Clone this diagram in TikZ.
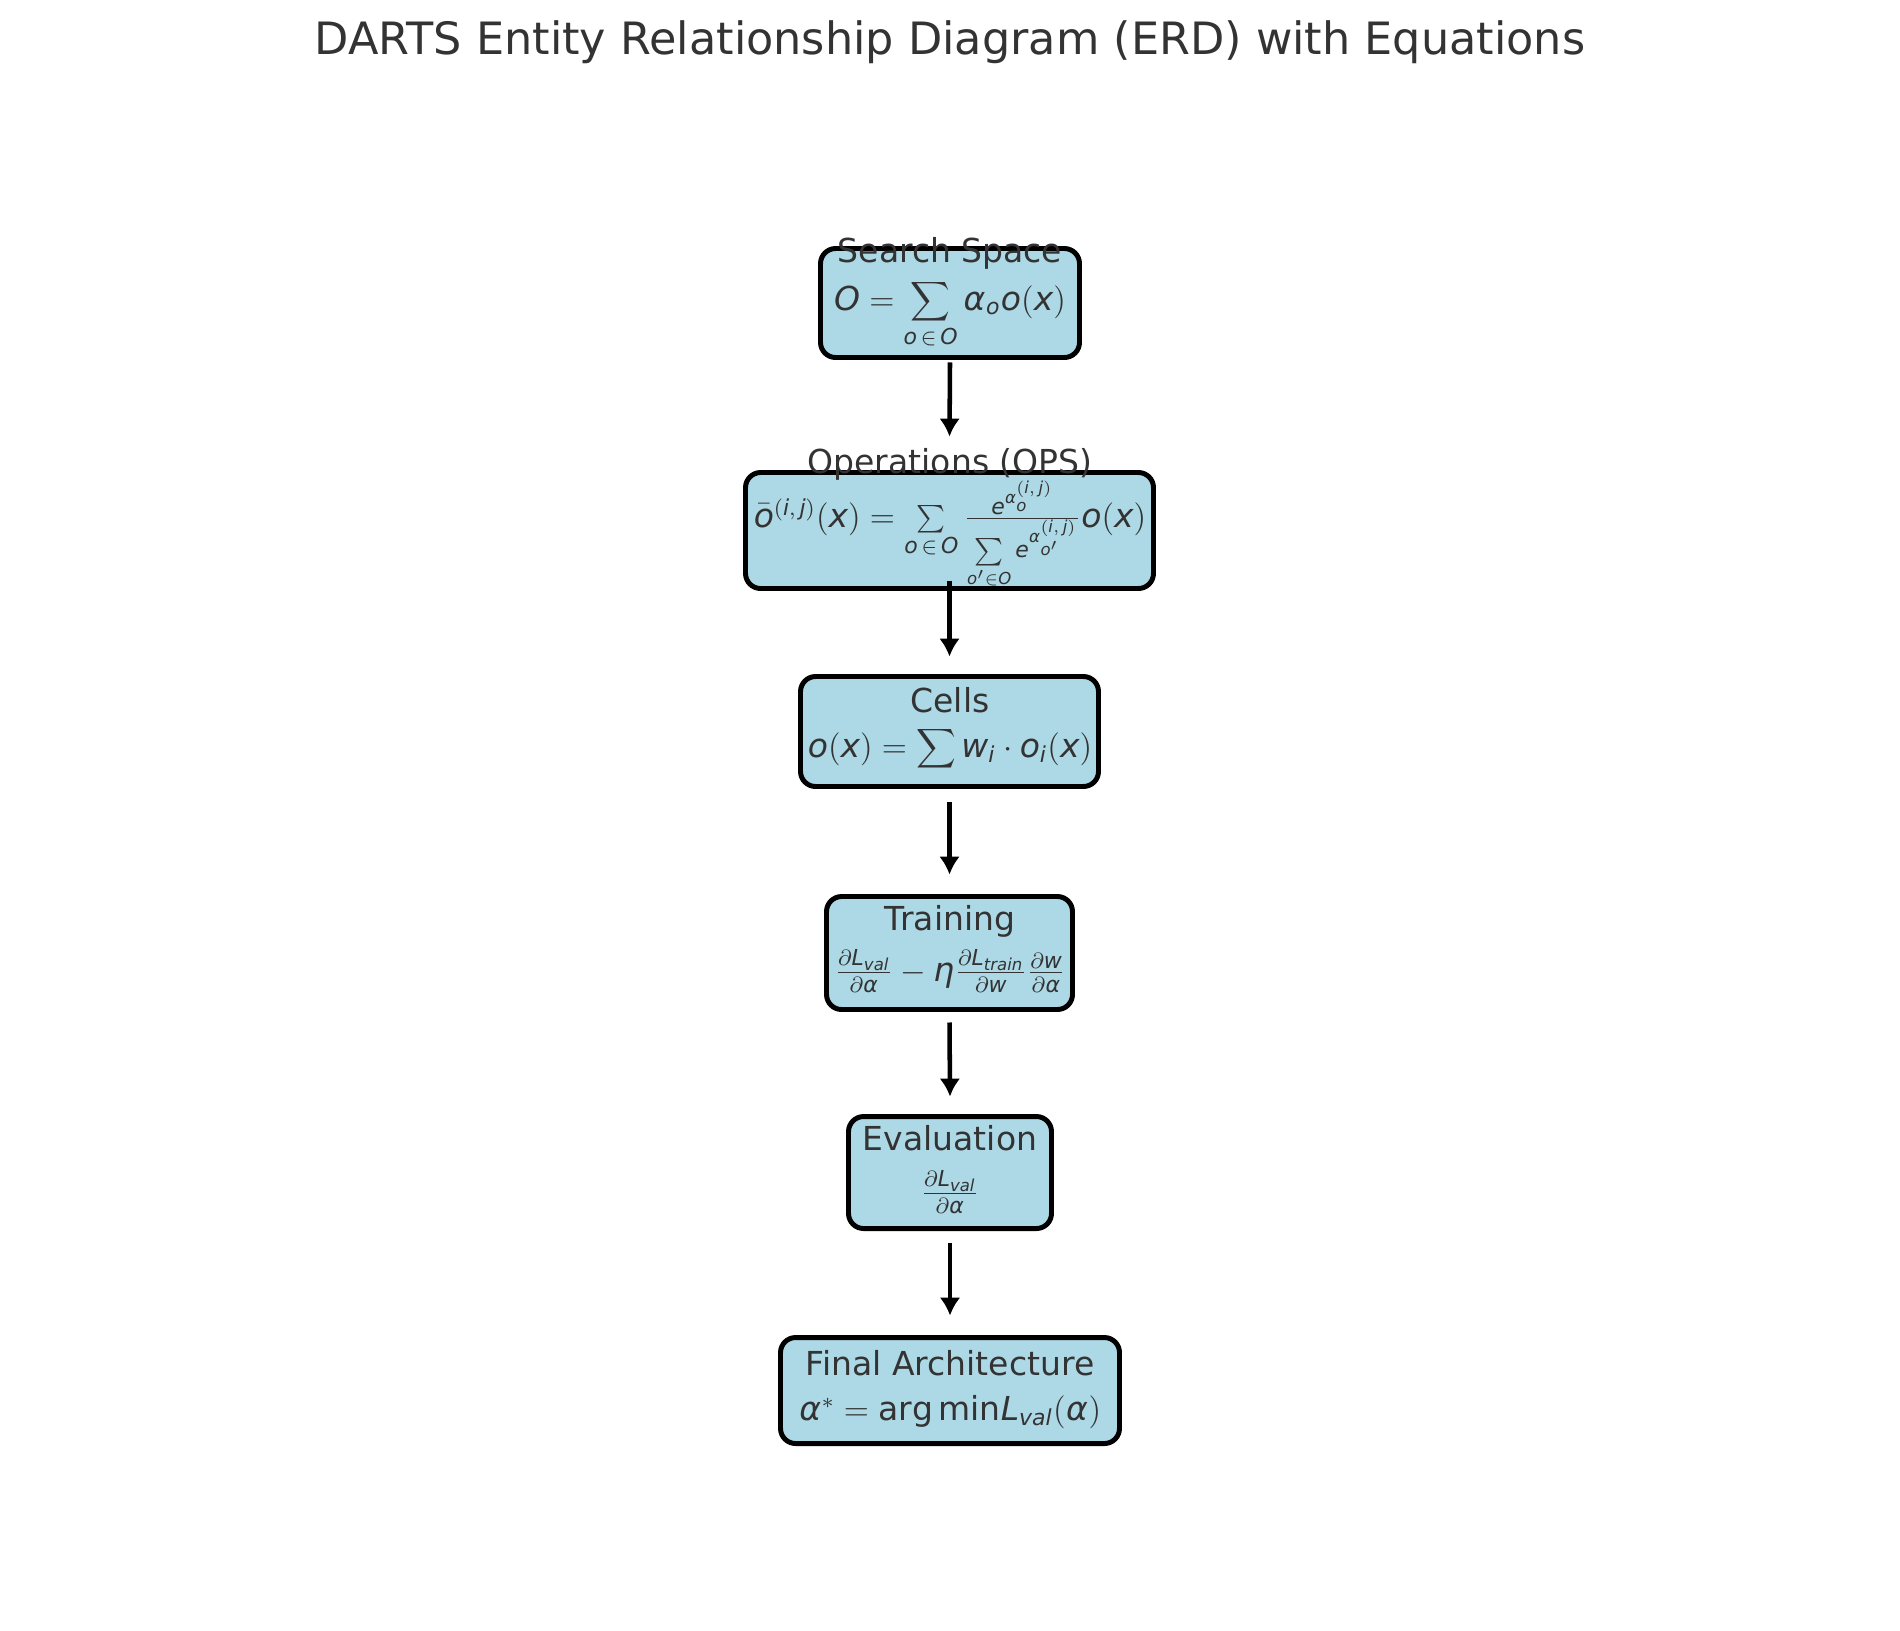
\documentclass[tikz,border=0pt]{standalone}
\usepackage{mathspec}
\setmainfont{DejaVu Sans}
\setmathsfont(Digits,Latin,Greek){DejaVu Sans}
\setmathrm{DejaVu Sans}
\usetikzlibrary{arrows.meta,calc}

\definecolor{boxblue}{HTML}{ADD8E6}
\definecolor{inkgray}{HTML}{333333}
\newcommand{\px}{0.3636pt}

\tikzset{
  entity/.style={draw=black, line width=1.8pt, fill=boxblue, rounded corners=5.5pt, inner sep=0pt},
  enttitle/.style={text=inkgray, font=\fontsize{12}{14}\selectfont, inner sep=0pt, anchor=base},
  enteq/.style={text=inkgray, font=\fontsize{12}{14}\selectfont, inner sep=0pt, anchor=base},
  flow/.style={-{Latex[length=6.5pt,width=7.5pt]}, line width=1.65pt}
}

\begin{document}
\begin{tikzpicture}[x=0.3636pt, y=-0.3636pt]
\useasboundingbox (0,0) rectangle (1900,1630);

\node[text=inkgray, font=\fontsize{16.2}{19}\selectfont, anchor=base] (heading) at (950,54)
  {DARTS Entity Relationship Diagram (ERD) with Equations};

% entities
\node[entity, minimum width=259*\px, minimum height=109*\px] (space) at (950,303) {};
\node[enttitle] (spaceT) at (950,262) {Search Space};
\node[enteq] (spaceE) at (950,310) {$\displaystyle O = \sum_{o\,\in\,O}\alpha_o o(x)$};

\node[entity, minimum width=408*\px, minimum height=116*\px] (ops) at (949.5,530.5) {};
\node[enttitle] (opsT) at (950,473) {Operations (OPS)};
\node[enteq] (opsE) at (950,527)
  {$\bar{o}^{(i,\,j)}(x) = \sum\limits_{o\,\in\,O}\frac{e^{\alpha_o^{(i,\,j)}}}{\sum\limits_{o'\in O} e^{\alpha_{o'}^{(i,\,j)}}}o(x)$};

\node[entity, minimum width=298*\px, minimum height=110*\px] (cells) at (949.5,731.5) {};
\node[enttitle] (cellsT) at (950,712) {Cells};
\node[enteq] (cellsE) at (950,757) {$o(x) = \displaystyle\sum\nolimits w_i \cdot o_i(x)$};

\node[entity, minimum width=246*\px, minimum height=113*\px] (train) at (949.5,953) {};
\node[enttitle] (trainT) at (950,930) {Training};
\node[enteq] (trainE) at (950,981)
  {$\frac{\partial L_{val}}{\partial\alpha} - \eta\frac{\partial L_{train}}{\partial w}\frac{\partial w}{\partial\alpha}$};

\node[entity, minimum width=203*\px, minimum height=112*\px] (eval) at (950,1172.5) {};
\node[enttitle] (evalT) at (950,1150) {Evaluation};
\node[enteq] (evalE) at (950,1202) {$\frac{\partial L_{val}}{\partial\alpha}$};

\node[entity, minimum width=339*\px, minimum height=106*\px] (final) at (950,1390.5) {};
\node[enttitle] (finalT) at (950,1375) {Final Architecture};
\node[enteq] (finalE) at (950,1420) {$\alpha^{*} = \arg\min\!L_{val}(\alpha)$};

% flow
\draw[flow] ($(space.south)+(0,2.5)$) -- ($(ops.north)+(0,-33.5)$);
\draw[flow] ($(ops.south)+(0,-9.5)$) -- ($(cells.north)+(0,-17.5)$);
\draw[flow] ($(cells.south)+(0,13.5)$) -- ($(train.north)+(0,-19.5)$);
\draw[flow] ($(train.south)+(0,10.5)$) -- ($(eval.north)+(0,-17.5)$);
\draw[flow] ($(eval.south)+(0,11.5)$) -- ($(final.north)+(0,-19.5)$);
\end{tikzpicture}
\end{document}
